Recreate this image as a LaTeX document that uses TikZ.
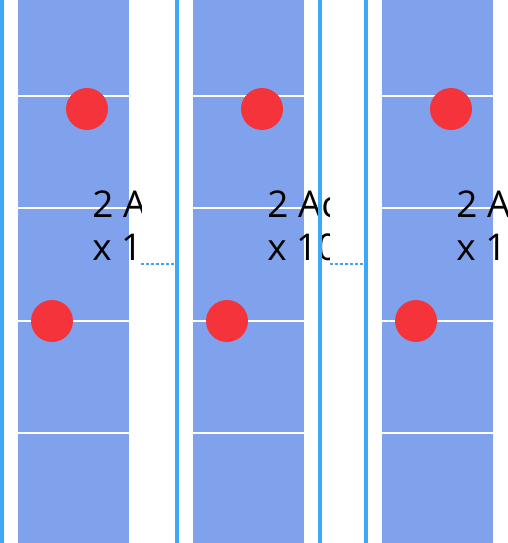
\documentclass[tikz,border=0pt]{standalone}
\usepackage{fontspec}
\setmainfont{Open Sans}
\usetikzlibrary{positioning}
\definecolor{StripBlue}{RGB}{128,162,236}
\definecolor{EdgeBlue}{RGB}{60,168,246}
\definecolor{DotRed}{RGB}{244,52,58}

\begin{document}
\begin{tikzpicture}[
    x=0.02cm, y=-0.02cm,
    strip/.style={fill=StripBlue, draw=none},
    divider/.style={white, line width=1.3pt},
    edge/.style={EdgeBlue, line width=2pt},
    link/.style={EdgeBlue, line width=0.8pt, dash pattern=on 1.7pt off 1.1pt},
    dot/.style={circle, fill=DotRed, minimum size=0.84cm, inner sep=0pt},
    lbl/.style={anchor=base west, inner sep=0pt, font=\fontsize{21}{25}\selectfont},
]
\useasboundingbox (0,0) rectangle (507,543);

% -- three clipped panels --
\foreach \name/\off/\cut in {one/0/141, two/175/329, three/364/507} {
  \begin{scope}
    \clip (\off,0) rectangle (\cut,543);
    \fill[strip] (18+\off,0) rectangle (129+\off,543);
    \foreach \y in {96,208,321,433}
      \draw[divider] (18+\off,\y) -- (129+\off,\y);
    \node[dot] (\name-top) at (87+\off,109) {};
    \node[dot] (\name-low) at (52+\off,321) {};
    \node[lbl] (\name-a) at (92+\off,218) {2 Ac};
    \node[lbl] (\name-b) at (92+\off,261) {x 10};
  \end{scope}
}

% -- panel borders --
\draw[edge] (2,0) -- (2,543);
\draw[edge] (177,0) -- (177,543);
\draw[edge] (320,0) -- (320,543);
\draw[edge] (366,0) -- (366,543);

% -- dashed links between panels --
\coordinate (one-out) at (141,264);
\coordinate (two-in) at (175,264);
\coordinate (two-out) at (330,264);
\coordinate (three-in) at (364,264);
\draw[link] (one-out) -- (two-in);
\draw[link] (two-out) -- (three-in);

\end{tikzpicture}
\end{document}
